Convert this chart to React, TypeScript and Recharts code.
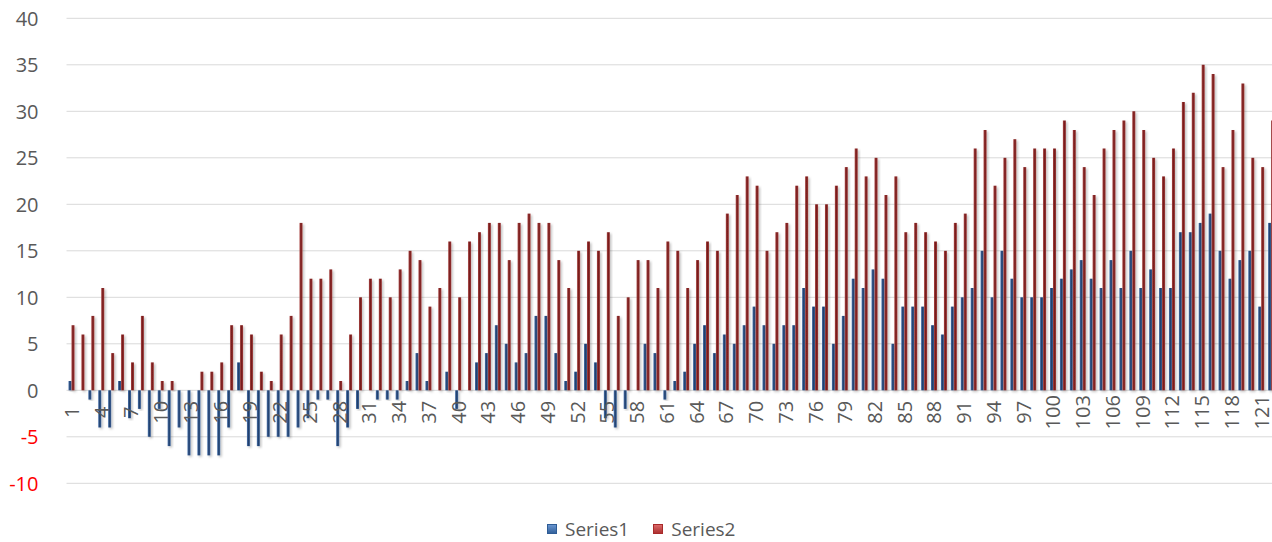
import { BarChart, Bar, XAxis, YAxis, CartesianGrid } from "recharts";

// values, one per category (1..122)
const series1 = [
  1, 0, -1, -4, -4, 1, -3, -2, -5, -2, -6, -4, -7, -7, -7, -7, -4, 3, -6, -6,
  -5, -5, -5, -4, -3, -1, -1, -6, -4, -2, 0, -1, -1, -1, 1, 4, 1, 0, 2, -2,
  0, 3, 4, 7, 5, 3, 4, 8, 8, 4, 1, 2, 5, 3, -3, -4, -2, 0, 5, 4,
  -1, 1, 2, 5, 7, 4, 6, 5, 7, 9, 7, 5, 7, 7, 11, 9, 9, 5, 8, 12,
  11, 13, 12, 5, 9, 9, 9, 7, 6, 9, 10, 11, 15, 10, 15, 12, 10, 10, 10, 11,
  12, 13, 14, 12, 11, 14, 11, 15, 11, 13, 11, 11, 17, 17, 18, 19, 15, 12, 14, 15,
  9, 18,
];

const series2 = [
  7, 6, 8, 11, 4, 6, 3, 8, 3, 1, 1, 0, 0, 2, 2, 3, 7, 7, 6, 2,
  1, 6, 8, 18, 12, 12, 13, 1, 6, 10, 12, 12, 10, 13, 15, 14, 9, 11, 16, 10,
  16, 17, 18, 18, 14, 18, 19, 18, 18, 14, 11, 15, 16, 15, 17, 8, 10, 14, 14, 11,
  16, 15, 11, 14, 16, 15, 19, 21, 23, 22, 15, 17, 18, 22, 23, 20, 20, 22, 24, 26,
  23, 25, 21, 23, 17, 18, 17, 16, 15, 18, 19, 26, 28, 22, 25, 27, 24, 26, 26, 26,
  29, 28, 24, 21, 26, 28, 29, 30, 28, 25, 23, 26, 31, 32, 35, 34, 24, 28, 33, 25,
  24, 29,
];

const categories = series1.map((_, i) => String(i + 1));
const valueTicks = [-10, -5, 0, 5, 10, 15, 20, 25, 30, 35, 40];
const seriesNames = ["Series1", "Series2"];

const data = categories.map((cat, i) => ({
  cat,
  s1: series1[i],
  s2: series2[i],
}));

const FONT = "'Open Sans', sans-serif";
const GREY = "#595959";

function ValueTick({ x, y, payload }: any) {
  const v = payload.value;
  return (
    <text
      x={x}
      y={y}
      textAnchor="end"
      dominantBaseline="central"
      fill={v < 0 ? "#FF0000" : GREY}
      fontSize={20}
      fontFamily={FONT}
    >
      {v}
    </text>
  );
}

function CategoryTick({ x, y, payload }: any) {
  // category axis crosses at zero, so labels sit just under the 0 line
  return (
    <g transform={`translate(${x},${y - 71})`}>
      <text
        transform="rotate(-90)"
        textAnchor="middle"
        dominantBaseline="central"
        fill={GREY}
        fontSize={20}
        fontFamily={FONT}
      >
        {payload.value}
      </text>
    </g>
  );
}

function LegendBox({ colors }: { colors: [string, string] }) {
  return (
    <span
      style={{
        display: "inline-block",
        width: 10,
        height: 10,
        background: `linear-gradient(180deg, ${colors[0]} 0%, ${colors[1]} 100%)`,
        boxShadow: `inset 0 0 0 1px ${colors[1]}`,
      }}
    />
  );
}

export default function App() {
  return (
    <div
      style={{
        position: "fixed",
        left: 0,
        top: 0,
        width: 1272,
        height: 542,
        overflow: "hidden",
        background: "#fff",
      }}
    >
      <BarChart
        width={1276}
        height={500}
        data={data}
        margin={{ top: 18.3, right: 0, left: 0, bottom: 0 }}
        barGap={0}
        barSize={3}
      >
        <defs>
          <linearGradient id="gBlue" x1="0" y1="0" x2="1" y2="0">
            <stop offset="0%" stopColor="#4B74AE" />
            <stop offset="50%" stopColor="#213F6B" />
            <stop offset="100%" stopColor="#3C639A" />
          </linearGradient>
          <linearGradient id="gRed" x1="0" y1="0" x2="1" y2="0">
            <stop offset="0%" stopColor="#A94644" />
            <stop offset="50%" stopColor="#761C1C" />
            <stop offset="100%" stopColor="#9E3A38" />
          </linearGradient>
          <filter id="shadow" x="-100%" y="-5%" width="300%" height="115%">
            <feDropShadow dx="1.5" dy="1.5" stdDeviation="1.2" floodColor="#000" floodOpacity="0.25" />
          </filter>
        </defs>
        <CartesianGrid vertical={false} stroke="#D9D9D9" strokeWidth={1} />
        <XAxis
          dataKey="cat"
          height={16.7}
          interval={2}
          axisLine={false}
          tickLine={false}
          tickSize={0}
          tickMargin={0}
          tick={<CategoryTick />}
        />
        <YAxis
          width={66.5}
          domain={[-10, 40]}
          ticks={valueTicks}
          axisLine={false}
          tickLine={false}
          tickSize={0}
          tickMargin={28}
          tick={<ValueTick />}
        />
        <Bar dataKey="s1" name={seriesNames[0]} fill="url(#gBlue)" filter="url(#shadow)" isAnimationActive={false} />
        <Bar dataKey="s2" name={seriesNames[1]} fill="url(#gRed)" filter="url(#shadow)" isAnimationActive={false} />
      </BarChart>
      <div
        style={{
          position: "absolute",
          left: 547,
          top: 515.5,
          display: "flex",
          alignItems: "center",
          fontFamily: FONT,
          fontSize: 19,
          color: GREY,
          lineHeight: "26px",
        }}
      >
        <LegendBox colors={["#6F9BD6", "#2E5C96"]} />
        <span style={{ marginLeft: 8, marginRight: 24 }}>{seriesNames[0]}</span>
        <LegendBox colors={["#E07070", "#A82A2A"]} />
        <span style={{ marginLeft: 8 }}>{seriesNames[1]}</span>
      </div>
    </div>
  );
}
